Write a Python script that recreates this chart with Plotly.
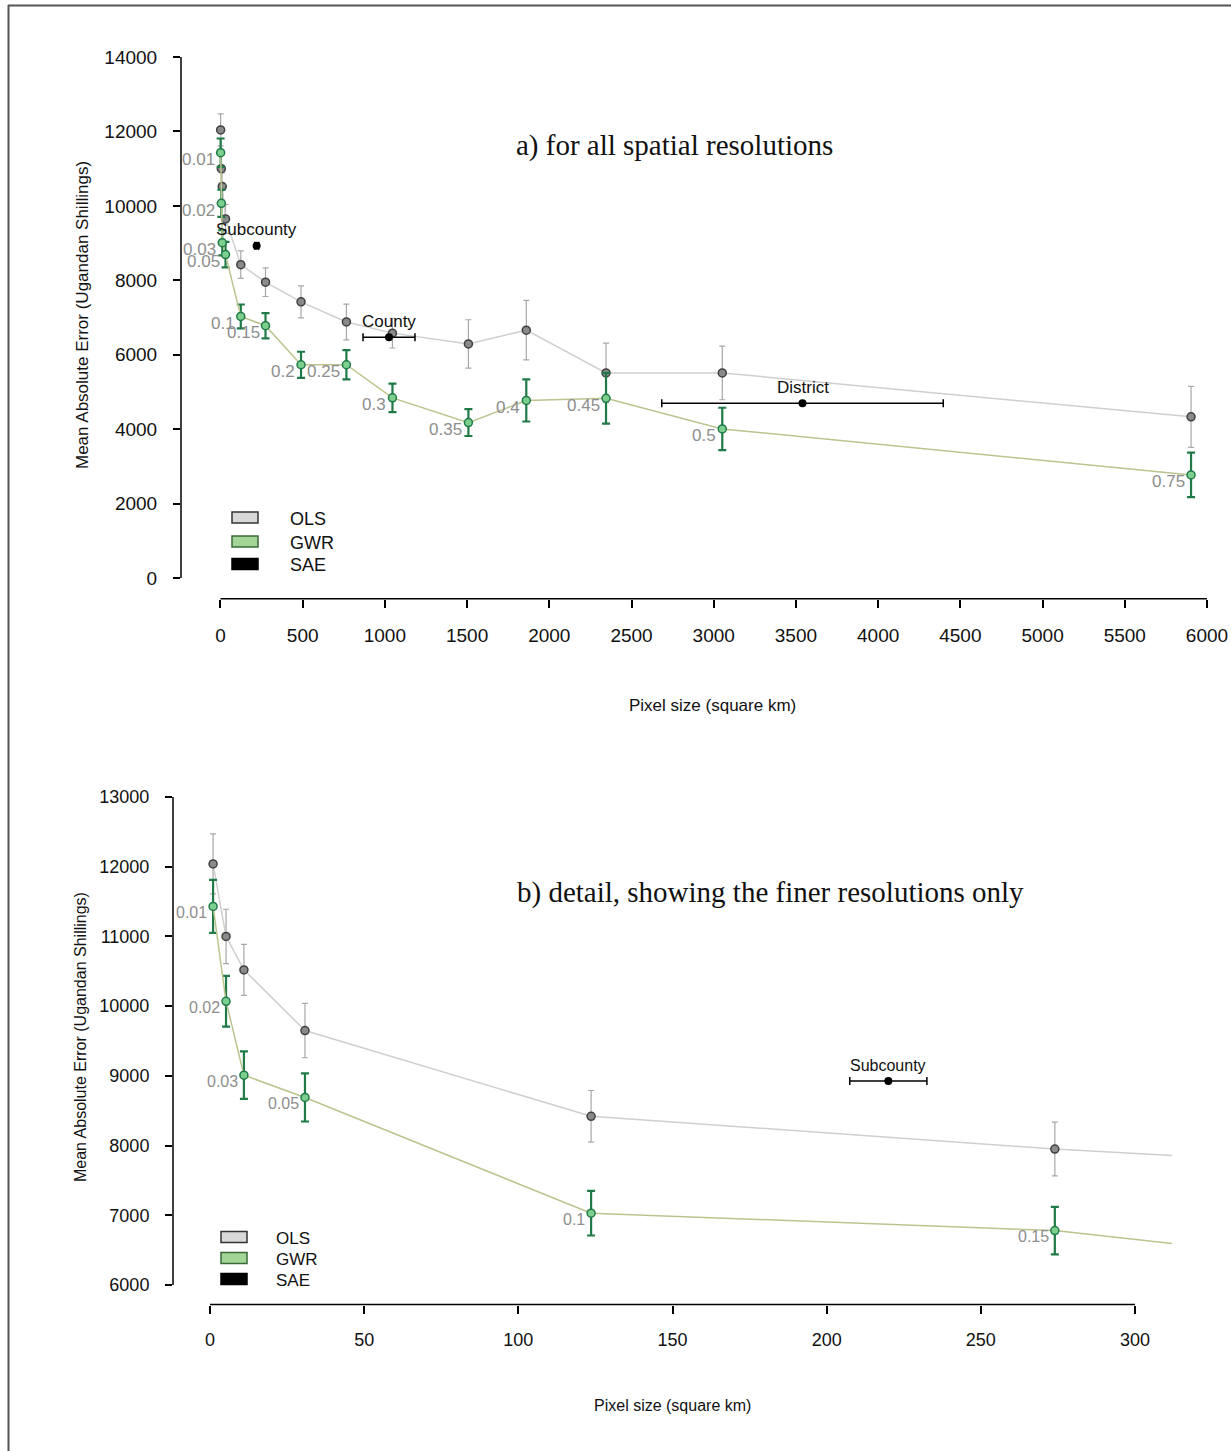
import plotly.graph_objects as go

# ---------------- data ----------------
resolution_labels = ["0.01", "0.02", "0.03", "0.05", "0.1", "0.15", "0.2", "0.25",
                     "0.3", "0.35", "0.4", "0.45", "0.5", "0.75"]
pixel_area = [1.0, 5.2, 11.0, 30.8, 123.6, 274, 490, 766, 1046, 1508, 1860, 2345, 3052, 5903]
ols_mae = [12040, 11000, 10520, 9650, 8420, 7950, 7420, 6880, 6580, 6290, 6660, 5510, 5510, 4330]
ols_err = [430, 390, 365, 390, 370, 385, 430, 480, 400, 650, 800, 800, 720, 820]
gwr_mae = [11430, 10070, 9010, 8690, 7030, 6780, 5730, 5730, 4840, 4175, 4770, 4830, 4005, 2770]
gwr_err = [380, 365, 340, 345, 320, 340, 350, 395, 385, 360, 565, 680, 570, 600]

sae_names = ["Subcounty", "County", "District"]
sae_area = [220, 1025, 3540]
sae_area_err = [12.5, 158, 856]
sae_mae = [8925, 6470, 4696]

legend_labels = ["OLS", "GWR", "SAE"]

yticks_a = [0, 2000, 4000, 6000, 8000, 10000, 12000, 14000]
xticks_a = [0, 500, 1000, 1500, 2000, 2500, 3000, 3500, 4000, 4500, 5000, 5500, 6000]
yticks_b = [6000, 7000, 8000, 9000, 10000, 11000, 12000, 13000]
xticks_b = [0, 50, 100, 150, 200, 250, 300]

title_a = "a) for all spatial resolutions"
title_b = "b) detail, showing the finer resolutions only"
xtitle = "Pixel size (square km)"
ytitle = "Mean Absolute Error (Ugandan Shillings)"

# ---------------- styling ----------------
W, H = 1231, 1451
def px(x):
    return x / W
def py(y):
    return 1 - y / H

SANS = "Liberation Sans, Arial, sans-serif"
SERIF = "Liberation Serif, Times New Roman, serif"
OLS_LINE = "#cfcfcf"
OLS_ERR = "#a8a8a8"
GWR_LINE = "#bcc48e"
GWR_ERR = "#1f7a48"
LABEL_GREY = "#8e8e8e"

xa_range = [-240, 6146]
ya_range = [-560, 14560]
xb_range = [-12, 312]
yb_range = [5720, 13280]

xa_dom = [px(181), 1.0]
ya_dom = [py(598.8), py(36.2)]
xb_dom = [px(173), px(1172)]
yb_dom = [py(1304.5), py(777.5)]

fig = go.Figure()

for xa, ya in (("x", "y"), ("x2", "y2")):
    fig.add_trace(go.Scatter(
        x=pixel_area, y=ols_mae, xaxis=xa, yaxis=ya, mode="lines+markers",
        line=dict(color=OLS_LINE, width=1.5),
        marker=dict(symbol="circle", size=8, color="#8a8a8a", line=dict(color="#404040", width=1.5)),
        error_y=dict(type="data", array=ols_err, color=OLS_ERR, thickness=1.2, width=3),
        showlegend=False, hoverinfo="skip"))
    fig.add_trace(go.Scatter(
        x=pixel_area, y=gwr_mae, xaxis=xa, yaxis=ya, mode="lines+markers",
        line=dict(color=GWR_LINE, width=1.5),
        marker=dict(symbol="circle", size=8, color="#7ccf8c", line=dict(color="#1f7a48", width=1.5)),
        error_y=dict(type="data", array=gwr_err, color=GWR_ERR, thickness=2.2, width=4),
        showlegend=False, hoverinfo="skip"))
    fig.add_trace(go.Scatter(
        x=sae_area, y=sae_mae, xaxis=xa, yaxis=ya, mode="markers",
        marker=dict(symbol="circle", size=8, color="black"),
        error_x=dict(type="data", array=sae_area_err, color="black", thickness=1.5, width=4),
        showlegend=False, hoverinfo="skip"))

annotations = []
# resolution labels next to GWR points
for lab, xv, yv in zip(resolution_labels, pixel_area, gwr_mae):
    annotations.append(dict(x=xv, y=yv, xref="x", yref="y", text=lab, showarrow=False,
                            xanchor="right", yanchor="middle", xshift=-4, yshift=-7,
                            font=dict(family=SANS, size=17, color=LABEL_GREY)))
    if xb_range[0] <= xv <= xb_range[1]:
        annotations.append(dict(x=xv, y=yv, xref="x2", yref="y2", text=lab, showarrow=False,
                                xanchor="right", yanchor="middle", xshift=-4, yshift=-6,
                                font=dict(family=SANS, size=16, color=LABEL_GREY)))
# SAE labels
for lab, xv, yv in zip(sae_names, sae_area, sae_mae):
    annotations.append(dict(x=xv, y=yv, xref="x", yref="y", text=lab, showarrow=False,
                            xanchor="center", yanchor="middle", yshift=16,
                            font=dict(family=SANS, size=17, color="#111")))
    if xb_range[0] <= xv <= xb_range[1]:
        annotations.append(dict(x=xv, y=yv, xref="x2", yref="y2", text=lab, showarrow=False,
                                xanchor="center", yanchor="middle", yshift=16,
                                font=dict(family=SANS, size=16, color="#111")))

# titles
annotations.append(dict(x=px(514), y=py(146), xref="paper", yref="paper", text=title_a,
                        showarrow=False, xanchor="left", yanchor="middle",
                        font=dict(family=SERIF, size=29, color="#111")))
annotations.append(dict(x=px(515), y=py(892), xref="paper", yref="paper", text=title_b,
                        showarrow=False, xanchor="left", yanchor="middle",
                        font=dict(family=SERIF, size=29, color="#111")))
# axis titles
annotations.append(dict(x=px(712), y=py(706), xref="paper", yref="paper", text=xtitle,
                        showarrow=False, xanchor="center", yanchor="middle",
                        font=dict(family=SANS, size=17, color="#111")))
annotations.append(dict(x=px(82), y=py(315), xref="paper", yref="paper", text=ytitle,
                        showarrow=False, xanchor="center", yanchor="middle", textangle=-90,
                        font=dict(family=SANS, size=17, color="#111")))
annotations.append(dict(x=px(672), y=py(1405), xref="paper", yref="paper", text=xtitle,
                        showarrow=False, xanchor="center", yanchor="middle",
                        font=dict(family=SANS, size=16, color="#111")))
annotations.append(dict(x=px(80), y=py(1037), xref="paper", yref="paper", text=ytitle,
                        showarrow=False, xanchor="center", yanchor="middle", textangle=-90,
                        font=dict(family=SANS, size=16, color="#111")))

shapes = []
# R-style axis lines spanning first to last tick
shapes.append(dict(type="line", xref="x", yref="paper", x0=xticks_a[0], x1=xticks_a[-1],
                   y0=ya_dom[0], y1=ya_dom[0], line=dict(color="black", width=1.5)))
shapes.append(dict(type="line", xref="paper", yref="y", x0=xa_dom[0], x1=xa_dom[0],
                   y0=yticks_a[0], y1=yticks_a[-1], line=dict(color="black", width=1.5)))
shapes.append(dict(type="line", xref="x2", yref="paper", x0=xticks_b[0], x1=xticks_b[-1],
                   y0=yb_dom[0], y1=yb_dom[0], line=dict(color="black", width=1.5)))
shapes.append(dict(type="line", xref="paper", yref="y2", x0=xb_dom[0], x1=xb_dom[0],
                   y0=yticks_b[0], y1=yticks_b[-1], line=dict(color="black", width=1.5)))

# legends (boxes + text)
leg_fill = ["#d8d8d8", "#a3d696", "#000000"]
leg_line = ["#333333", "#3a6a3a", "#000000"]
for (bx, tx, ys, fs) in ((232, 288, [517.5, 541.5, 564], 18), (221, 274, [1237, 1258, 1279], 17)):
    for lab, yc, fc, lc in zip(legend_labels, ys, leg_fill, leg_line):
        shapes.append(dict(type="rect", xref="paper", yref="paper",
                           x0=px(bx), x1=px(bx + 26), y0=py(yc + 5.5), y1=py(yc - 5.5),
                           fillcolor=fc, line=dict(color=lc, width=1.5)))
        annotations.append(dict(x=px(tx), y=py(yc + 1), xref="paper", yref="paper", text=lab,
                                showarrow=False, xanchor="left", yanchor="middle",
                                font=dict(family=SANS, size=fs, color="#111")))

# page frame
shapes.append(dict(type="line", xref="paper", yref="paper", x0=px(8), x1=1.0,
                   y0=py(5.5), y1=py(5.5), line=dict(color="#555555", width=2)))
shapes.append(dict(type="line", xref="paper", yref="paper", x0=px(8.5), x1=px(8.5),
                   y0=py(5), y1=0, line=dict(color="#555555", width=2)))

axis_common = dict(showgrid=False, zeroline=False, showline=False, ticks="outside",
                   tickcolor="black", tickwidth=1.5, tickformat="d")

fig.update_layout(
    width=W, height=H, margin=dict(l=0, r=0, t=0, b=0),
    paper_bgcolor="white", plot_bgcolor="white",
    xaxis=dict(domain=xa_dom, range=xa_range, tickvals=xticks_a, ticklen=8, anchor="y",
               ticklabelstandoff=11, tickfont=dict(family=SANS, size=19, color="#111"), **axis_common),
    yaxis=dict(domain=ya_dom, range=ya_range, tickvals=yticks_a, ticklen=7, anchor="x",
               ticklabelstandoff=12, tickfont=dict(family=SANS, size=19, color="#111"), **axis_common),
    xaxis2=dict(domain=xb_dom, range=xb_range, tickvals=xticks_b, ticklen=8, anchor="y2",
                ticklabelstandoff=11, tickfont=dict(family=SANS, size=18, color="#111"), **axis_common),
    yaxis2=dict(domain=yb_dom, range=yb_range, tickvals=yticks_b, ticklen=7, anchor="x2",
                ticklabelstandoff=12, tickfont=dict(family=SANS, size=18, color="#111"), **axis_common),
    annotations=annotations, shapes=shapes, showlegend=False,
)

fig.write_html("out.html", config={"displayModeBar": False},
               post_script="document.body.style.margin='0';")
